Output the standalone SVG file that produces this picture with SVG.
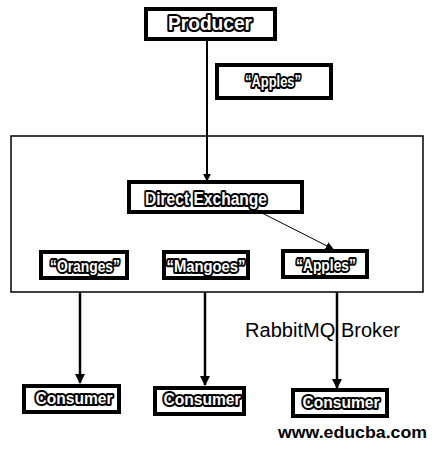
<svg xmlns="http://www.w3.org/2000/svg" width="435" height="449" viewBox="0 0 435 449">
<style>
.box{fill:#fff;stroke:#000;stroke-width:4}
.lbl{font-family:"Liberation Sans",Arial,sans-serif;font-weight:bold;fill:#fff;stroke:#000;stroke-width:4.2;stroke-linejoin:round;paint-order:stroke;text-anchor:middle}
.ln{stroke:#000;fill:none}
</style>
<defs>
<marker id="ah" viewBox="0 0 10 10" refX="9" refY="5" markerWidth="4" markerHeight="4" orient="auto" markerUnits="strokeWidth">
<path d="M0,0 L10,5 L0,10 z" fill="#000"/>
</marker>
<marker id="ah2" viewBox="0 0 10 10" refX="9" refY="5" markerWidth="8" markerHeight="8" orient="auto" markerUnits="strokeWidth">
<path d="M0,0 L10,5 L0,10 z" fill="#000"/>
</marker>
</defs>
<rect id="broker" x="11" y="136" width="412" height="156" fill="#fff" stroke="#000" stroke-width="1.5"/>
<g id="connectors">
<line class="ln" x1="207" y1="40" x2="207" y2="181" stroke-width="2" marker-end="url(#ah)"/>
<line class="ln" x1="262" y1="213" x2="333" y2="249" stroke-width="1" marker-end="url(#ah2)"/>
<line class="ln" x1="80" y1="292" x2="80" y2="383" stroke-width="2.5" marker-end="url(#ah)"/>
<line class="ln" x1="205" y1="292" x2="205" y2="385" stroke-width="2.5" marker-end="url(#ah)"/>
<line class="ln" x1="337" y1="292" x2="337" y2="388" stroke-width="2.5" marker-end="url(#ah)"/>
</g>
<g id="producer">
<rect class="box" x="146" y="9" width="129" height="30"/>
<text class="lbl" x="210" y="30" font-size="20" textLength="84" lengthAdjust="spacingAndGlyphs">Producer</text>
</g>
<g id="routing-key">
<rect class="box" x="217" y="65" width="114" height="33"/>
<text class="lbl" x="273" y="87" font-size="17" textLength="56" lengthAdjust="spacingAndGlyphs">“Apples”</text>
</g>
<g id="direct-exchange">
<rect class="box" x="129" y="182" width="173" height="30"/>
<text class="lbl" x="206" y="205" font-size="19" textLength="122" lengthAdjust="spacingAndGlyphs">Direct Exchange</text>
</g>
<g id="queue-oranges">
<rect class="box" x="41" y="252" width="86" height="26"/>
<text class="lbl" x="85" y="272" font-size="17" textLength="70" lengthAdjust="spacingAndGlyphs">“Oranges”</text>
</g>
<g id="queue-mangoes">
<rect class="box" x="164" y="252" width="84" height="26"/>
<text class="lbl" x="206" y="272" font-size="17" textLength="79" lengthAdjust="spacingAndGlyphs">“Mangoes”</text>
</g>
<g id="queue-apples">
<rect class="box" x="283" y="251" width="84" height="26"/>
<text class="lbl" x="326" y="271" font-size="17" textLength="60" lengthAdjust="spacingAndGlyphs">“Apples”</text>
</g>
<text x="245" y="337" font-family="'Liberation Sans',Arial,sans-serif" font-size="20" textLength="155" lengthAdjust="spacingAndGlyphs" fill="#000">RabbitMQ Broker</text>
<g id="consumer-1">
<rect class="box" x="24" y="386" width="95" height="26"/>
<text class="lbl" x="74" y="404" font-size="17" textLength="77" lengthAdjust="spacingAndGlyphs">Consumer</text>
</g>
<g id="consumer-2">
<rect class="box" x="155" y="388" width="89" height="26"/>
<text class="lbl" x="202" y="405" font-size="17" textLength="77" lengthAdjust="spacingAndGlyphs">Consumer</text>
</g>
<g id="consumer-3">
<rect class="box" x="293" y="390" width="94" height="26"/>
<text class="lbl" x="341" y="408" font-size="17" textLength="77" lengthAdjust="spacingAndGlyphs">Consumer</text>
</g>
<text x="278" y="438" font-family="'Liberation Sans',Arial,sans-serif" font-weight="bold" font-size="17" textLength="149" lengthAdjust="spacingAndGlyphs" fill="#000">www.educba.com</text>
</svg>
